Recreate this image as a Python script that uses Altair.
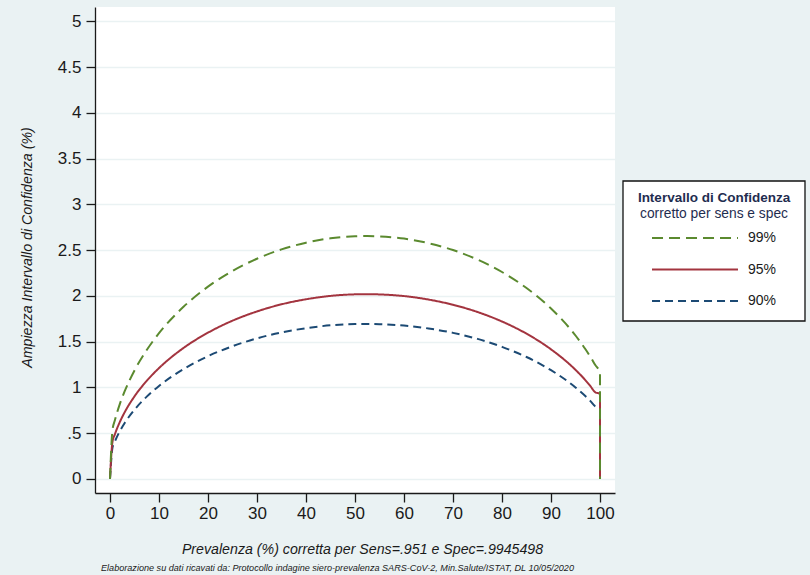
import altair as alt
import pandas as pd

# Prevalenza corretta (%) e ampiezza dell'intervallo di confidenza (%)
prevalenza = [0, 0.5, 1, 2, 3, 5, 7.5, 10, 15, 20, 25, 30, 35, 40, 45, 50, 52.5, 55,
              60, 65, 70, 75, 80, 85, 90, 95, 97, 98, 99, 100, 100]
ic99 = [0, 0.532, 0.642, 0.818, 0.959, 1.186, 1.410, 1.593, 1.882, 2.102, 2.273,
        2.407, 2.509, 2.582, 2.630, 2.652, 2.655, 2.651, 2.627, 2.577, 2.502, 2.398,
        2.262, 2.087, 1.863, 1.568, 1.420, 1.338, 1.248, 1.160, 0]
ic95 = [0, 0.405, 0.489, 0.622, 0.730, 0.903, 1.073, 1.212, 1.432, 1.599, 1.730,
        1.831, 1.909, 1.964, 2.001, 2.018, 2.020, 2.017, 1.999, 1.961, 1.904, 1.825,
        1.721, 1.588, 1.417, 1.193, 1.081, 1.018, 0.949, 0.930, 0]
ic90 = [0, 0.340, 0.410, 0.522, 0.612, 0.757, 0.900, 1.017, 1.201, 1.342, 1.451,
        1.537, 1.602, 1.648, 1.679, 1.693, 1.695, 1.692, 1.677, 1.645, 1.597, 1.531,
        1.444, 1.333, 1.189, 1.001, 0.907, 0.854, 0.796, 0.780, 0]

livelli = ["99%", "95%", "90%"]
colori = ["#5B8A2F", "#A3343F", "#1C4A74"]
tratteggi = [[11, 6], [1, 0], [8, 5]]

y_ticks = [0, 0.5, 1, 1.5, 2, 2.5, 3, 3.5, 4, 4.5, 5]
x_ticks = list(range(0, 101, 10))

titolo_x = "Prevalenza (%) corretta per Sens=.951 e Spec=.9945498"
titolo_y = "Ampiezza Intervallo di Confidenza (%)"
titolo_legenda = "Intervallo di Confidenza"
sottotitolo_legenda = "corretto per sens e spec"
nota = ("Elaborazione su dati ricavati da: Protocollo indagine siero-prevalenza "
        "SARS-CoV-2, Min.Salute/ISTAT, DL 10/05/2020")

FONT = "Liberation Sans"
BG = "#EAF2F3"
NAVY_TXT = "#1F2D50"

# long table, drawn 90% -> 95% -> 99% so the 99% curve sits on top
rows = []
for lev, vals in [("90%", ic90), ("95%", ic95), ("99%", ic99)]:
    for i, (p, w) in enumerate(zip(prevalenza, vals)):
        rows.append({"prev": p, "ampiezza": w, "livello": lev, "ord": i})
df = pd.DataFrame(rows)

# legend entries only; the box and its two heading lines are drawn as layers
legend_kw = dict(
    orient="none", legendX=528, legendY=219, title=None,
    symbolType="M-4,0H4", symbolSize=462, symbolStrokeWidth=2,
    symbolOffset=60, labelOffset=41,
    labelFont=FONT, labelFontSize=14, labelColor="#1a1a1a",
    padding=0, rowPadding=12.5,
)

lines = alt.Chart(df).mark_line(strokeWidth=2, interpolate="monotone").encode(
    x=alt.X("prev:Q", scale=alt.Scale(domain=[-3.06, 103.06], nice=False, zero=False),
            axis=alt.Axis(values=x_ticks, title=titolo_x, grid=False,
                          titleX=267, titleY=56, titleBaseline="middle")),
    y=alt.Y("ampiezza:Q", scale=alt.Scale(domain=[-0.153, 5.158], nice=False, zero=False),
            axis=alt.Axis(values=y_ticks, title=titolo_y, grid=True,
                          labelExpr="datum.value == 0.5 ? '.5' : format(datum.value, '~g')",
                          titleX=-68, titleY=240, titleBaseline="middle", titleAngle=-90)),
    color=alt.Color("livello:N", scale=alt.Scale(domain=livelli, range=colori),
                    legend=alt.Legend(**legend_kw)),
    strokeDash=alt.StrokeDash("livello:N", scale=alt.Scale(domain=livelli, range=tratteggi),
                              legend=alt.Legend(**legend_kw)),
    order="ord:Q",
    detail="livello:N",
)

legend_box = alt.Chart(pd.DataFrame({"k": [0]})).mark_rect(
    fill="white", stroke="#111111", strokeWidth=1.3
).encode(x=alt.value(528), x2=alt.value(710), y=alt.value(174), y2=alt.value(314))

legend_title = alt.Chart(pd.DataFrame({"t": [titolo_legenda]})).mark_text(
    font=FONT, fontSize=13.5, fontWeight="bold", color=NAVY_TXT,
    align="center", baseline="middle"
).encode(text="t:N", x=alt.value(619), y=alt.value(191))

legend_sub = alt.Chart(pd.DataFrame({"t": [sottotitolo_legenda]})).mark_text(
    font=FONT, fontSize=13.8, color=NAVY_TXT, align="center", baseline="middle"
).encode(text="t:N", x=alt.value(619), y=alt.value(207))

note_text = alt.Chart(pd.DataFrame({"t": [nota]})).mark_text(
    font=FONT, fontSize=9.1, fontStyle="italic", color="#1a1a1a", align="left",
    baseline="middle"
).encode(text="t:N", x=alt.value(6), y=alt.value(561))

chart = alt.layer(legend_box, lines, legend_title, legend_sub, note_text).properties(
    width=520, height=486,
    autosize=alt.AutoSizeParams(type="none"),
    padding={"left": 95, "top": 7, "right": 195, "bottom": 82},
    background=BG,
).configure_view(
    fill="white", stroke=None,
).configure_axis(
    domainColor="#1a1a1a", domainWidth=1.3, tickColor="#1a1a1a", tickWidth=1.3,
    tickSize=9, labelFont=FONT, labelFontSize=17, labelColor="#1a1a1a",
    titleFont=FONT, titleFontSize=14.2, titleFontStyle="italic", titleFontWeight="normal",
    titleColor="#1a1a1a", gridColor=BG, gridWidth=1.3,
).configure_axisX(labelPadding=3).configure_axisY(labelPadding=5)

chart.save("out.html", embed_options={"renderer": "svg", "actions": False})
